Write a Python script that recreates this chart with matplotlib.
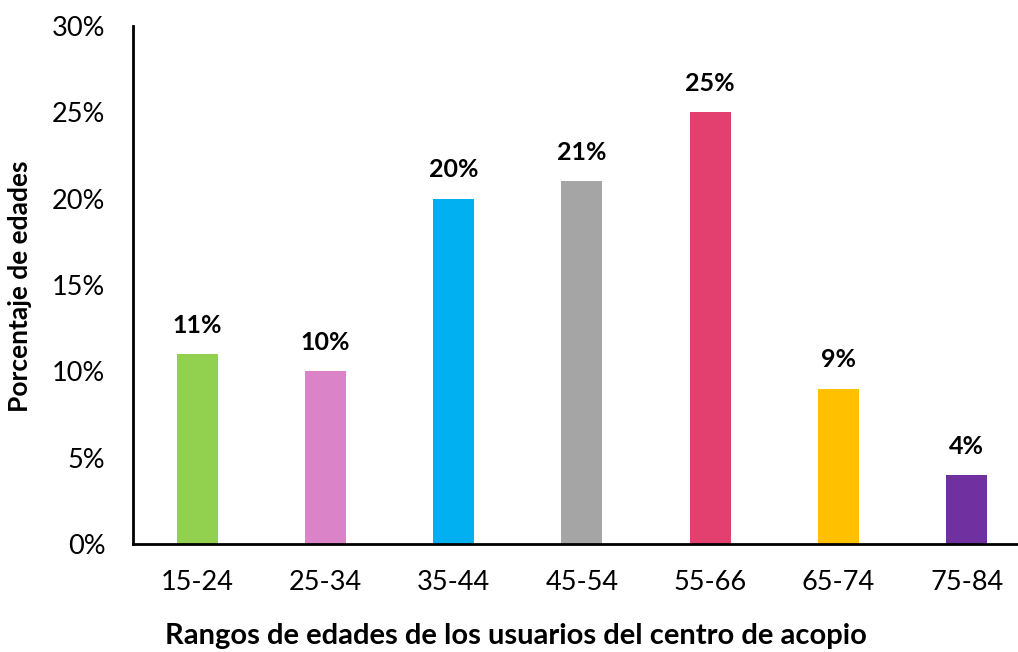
import matplotlib.pyplot as plt
from matplotlib.ticker import PercentFormatter

# Datos del gráfico
rangos = ['15-24', '25-34', '35-44', '45-54', '55-66', '65-74', '75-84']
porcentajes = [11, 10, 20, 21, 25, 9, 4]
colores = ['#92D050', '#DA83C8', '#00B0F0', '#A5A5A5', '#E3406F', '#FFC000', '#7030A0']

plt.rcParams['font.family'] = ['Lato', 'DejaVu Sans']

fig = plt.figure(figsize=(10.18, 6.52), dpi=100)
ax = fig.add_axes([0.1307, 0.1656, 0.8693, 0.7944])

barras = ax.bar(range(len(rangos)), porcentajes, width=0.32, color=colores)

# Etiquetas sobre las barras
for b, v in zip(barras, porcentajes):
    ax.text(b.get_x() + b.get_width() / 2, v + 1.0, f'{v}%',
            ha='center', va='bottom', fontsize=18, fontweight='bold')

ax.set_xlim(-0.5, 6.4)
ax.set_ylim(0, 30)
ax.set_yticks(range(0, 31, 5))
ax.yaxis.set_major_formatter(PercentFormatter(decimals=0))
ax.set_xticks(range(len(rangos)))
ax.set_xticklabels(rangos)
ax.tick_params(length=0, labelsize=19.5)
ax.tick_params(axis='y', pad=20)
ax.tick_params(axis='x', pad=19)

for s in ['top', 'right']:
    ax.spines[s].set_visible(False)
ax.spines['left'].set_linewidth(2)
ax.spines['bottom'].set_linewidth(2)

# Títulos de los ejes
fig.text(20 / 1018, 1 - 286 / 652, 'Porcentaje de edades', rotation=90,
         ha='center', va='center', fontsize=19, fontweight='bold')
fig.text(516 / 1018, 1 - 636 / 652,
         'Rangos de edades de los usuarios del centro de acopio',
         ha='center', va='center', fontsize=21, fontweight='bold')

fig.savefig('out.png', dpi=100)
